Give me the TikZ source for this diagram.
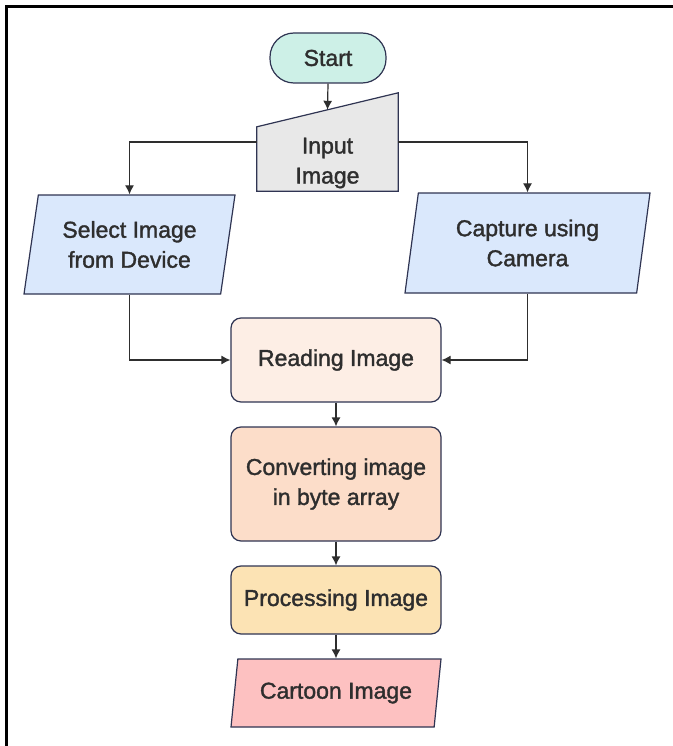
\documentclass[tikz,border=0pt]{standalone}
\usepackage{fontspec}
\setmainfont{Liberation Sans}
\newfontfamily\diafont[FakeBold=1.5]{Liberation Sans}
\usetikzlibrary{shapes.geometric,arrows.meta,calc}
\definecolor{edge}{HTML}{2F3452}
\definecolor{ink}{HTML}{2E2E2E}
\definecolor{startfill}{HTML}{CDF0E7}
\definecolor{inputfill}{HTML}{E8E8E8}
\definecolor{iofill}{HTML}{DAE8FC}
\definecolor{readfill}{HTML}{FDEEE5}
\definecolor{convfill}{HTML}{FCDDC9}
\definecolor{procfill}{HTML}{FCE3B4}
\definecolor{cartfill}{HTML}{FDC1C1}
\tikzset{
  txt/.style={font=\diafont\fontsize{23}{30}\selectfont,text=ink,align=center},
  term/.style={txt,draw=edge,line width=1.2pt,rounded corners=24pt,minimum width=116pt,minimum height=50pt},
  procbox/.style={txt,draw=edge,line width=1.2pt,rounded corners=10pt,minimum width=210pt},
  iobox/.style={txt,draw=edge,line width=1.2pt,trapezium,trapezium stretches body=true,inner xsep=0pt},
  arr/.style={draw=ink,line width=1.2pt,-{Latex[length=9pt,width=9pt]}}
}
\begin{document}
\begin{tikzpicture}[x=1pt,y=-1pt]
\useasboundingbox (0,0) rectangle (672,746);
\draw[line width=3pt] (6.5,750)--(6.5,6.5)--(680,6.5);
%
\node[term,fill=startfill] (start) at (328,58) {Start};
\node[minimum width=141pt,minimum height=98pt,inner sep=0pt] (input) at (327.5,142) {};
\draw[draw=edge,fill=inputfill,line width=1.2pt] (input.south west)--(input.south east)--(input.north east)--([yshift=-34pt]input.north west)--cycle;
\node[txt] (inputtxt) at (327.5,163) {Input\\Image};
\coordinate (intop) at ($([yshift=-34pt]input.north west)!0.5!(input.north east)$);
\node[iobox,fill=iofill,trapezium left angle=75,trapezium right angle=105,minimum width=211pt,minimum height=99pt] (select) at (129.5,244.5) {Select Image\\from Device};
\node[iobox,fill=iofill,trapezium left angle=76,trapezium right angle=104,minimum width=245pt,minimum height=100pt] (capture) at (527.5,243) {Capture using\\Camera};
\node[procbox,fill=readfill,minimum height=84pt] (read) at (336,360) {Reading Image};
\node[procbox,fill=convfill,minimum height=114pt] (conv) at (336,484) {Converting image\\in byte array};
\node[procbox,fill=procfill,minimum height=68pt] (proc) at (336,600) {Processing Image};
\node[iobox,fill=cartfill,trapezium left angle=76,trapezium right angle=104,minimum width=210pt,minimum height=68pt] (cartoon) at (336,693) {Cartoon Image};
%
\draw[arr] (start.south)--(intop);
\draw[arr] (input.west)-|(select.north);
\draw[arr] (input.east)-|(capture.north);
\draw[arr] (select.south)|-(read.west);
\draw[arr] (capture.south)|-(read.east);
\draw[arr] (read)--(conv);
\draw[arr] (conv)--(proc);
\draw[arr] (proc)--(cartoon);
\end{tikzpicture}
\end{document}
